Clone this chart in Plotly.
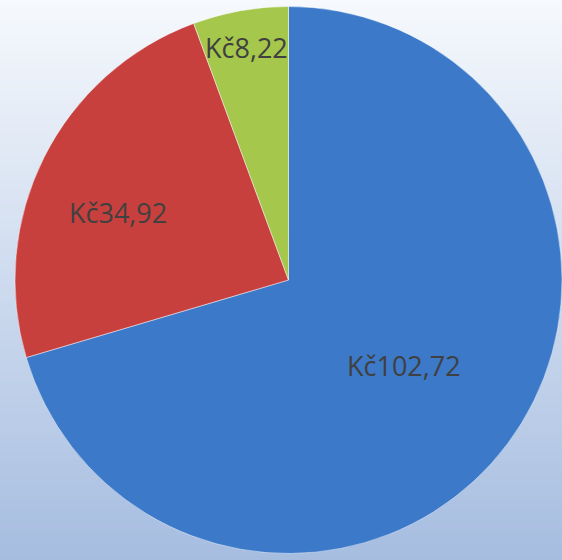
import math
import plotly.graph_objects as go

# ---- data ----
labels = ["A", "B", "C"]
values = [102.72, 34.92, 8.22]
text_labels = ["Kč102,72", "Kč34,92", "Kč8,22"]

# ---- style ----
colors = ["#3c79c9", "#c8403e", "#a5c74c"]
label_radius = [0.525, 0.67, 0.862]      # fraction of radius
label_angle_shift = [0.0, -5.0, 0.0]     # degrees
W, H = 562, 560
dom_x = [15 / W, 1.0]
dom_y = [6 / H, 554 / H]
dom_y = [1 - dom_y[1], 1 - dom_y[0]]

fig = go.Figure()
fig.add_trace(go.Pie(
    labels=labels, values=values, sort=False, direction="clockwise", rotation=0,
    marker=dict(colors=colors, line=dict(color="rgba(255,255,255,0.45)", width=1)),
    textinfo="none", hoverinfo="label+value", showlegend=False,
    domain=dict(x=dom_x, y=dom_y),
))

# background gradient bands
top = (246, 249, 253)
bot = (166, 189, 224)
n = 112
shapes = []
for i in range(n):
    t = (i + 0.5) / n
    c = tuple(round(top[k] + (bot[k] - top[k]) * t) for k in range(3))
    shapes.append(dict(type="rect", xref="paper", yref="paper", layer="below",
                       x0=0, x1=1, y0=1 - (i + 1) / n - 0.001, y1=1 - i / n + 0.001,
                       fillcolor="rgb(%d,%d,%d)" % c, line=dict(width=0)))

# labels positioned from the data
wpx = (dom_x[1] - dom_x[0]) * W
hpx = (dom_y[1] - dom_y[0]) * H
r = min(wpx, hpx) / 2
cx = (dom_x[0] + dom_x[1]) / 2 * W
cy = (1 - (dom_y[0] + dom_y[1]) / 2) * H
total = sum(values)
annotations = []
cum = 0.0
for v, txt, f, sh in zip(values, text_labels, label_radius, label_angle_shift):
    mid = (cum + v / 2) / total * 360 + sh
    cum += v
    a = math.radians(mid)
    px = cx + f * r * math.sin(a)
    py = cy - f * r * math.cos(a)
    annotations.append(dict(x=px / W, y=1 - py / H, xref="paper", yref="paper",
                            text=txt, showarrow=False, xanchor="center", yanchor="middle",
                            font=dict(family="Open Sans", size=27, color="#404040")))

fig.update_layout(
    width=W, height=H, margin=dict(l=0, r=0, t=0, b=0),
    paper_bgcolor="rgb(206,218,238)", plot_bgcolor="rgba(0,0,0,0)",
    shapes=shapes, annotations=annotations,
)
fig.write_html("out.html")
